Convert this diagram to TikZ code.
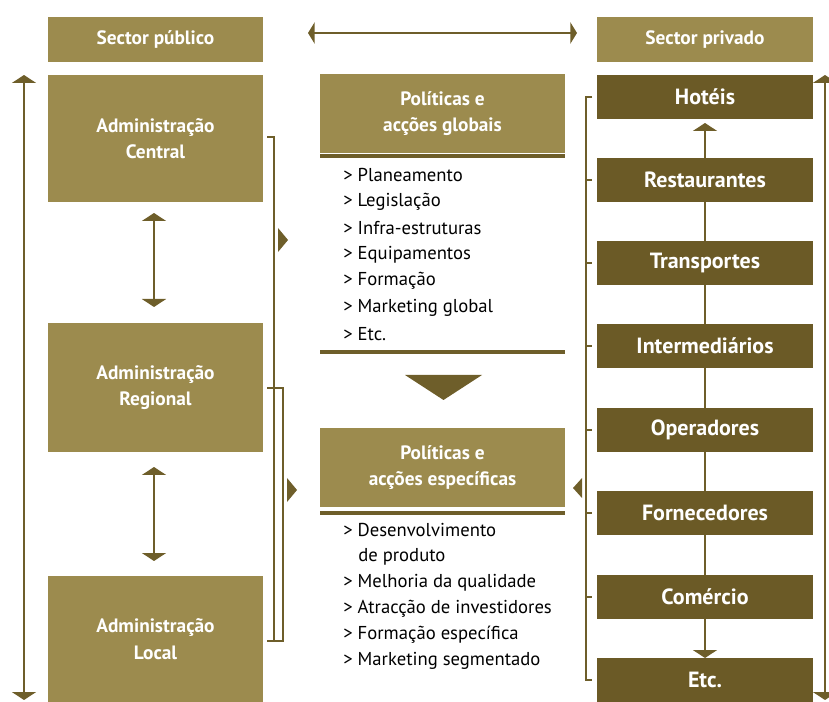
\documentclass[tikz,border=0pt]{standalone}
\usepackage{fontspec}
\setmainfont{PT Sans}
\usetikzlibrary{arrows.meta}
\definecolor{lightol}{HTML}{9C8B4E}
\definecolor{darkol}{HTML}{6B5A26}
\definecolor{lineol}{HTML}{6E5E2A}
\begin{document}
\begin{tikzpicture}[x=0.75pt,y=-0.75pt,
  boxbase/.style={text=white, font=\bfseries\fontsize{14.5}{20}\selectfont, align=center, inner sep=0pt, outer sep=0pt},
  lbox/.style={boxbase, fill=lightol, minimum width=161.25pt},
  cbox/.style={boxbase, fill=lightol, minimum width=183.75pt, minimum height=59.25pt},
  pbox/.style={boxbase, fill=darkol, minimum width=162pt, minimum height=33pt, font=\bfseries\fontsize{16.5}{20}\selectfont},
  item/.style={anchor=west, inner sep=0pt, text=black, font=\fontsize{14}{16}\selectfont},
  dbl/.style={draw=lineol, line width=2pt, {Triangle[width=18pt,length=6pt]}-{Triangle[width=18pt,length=6pt]}},
  one/.style={draw=lineol, line width=2pt, -{Triangle[width=18pt,length=6pt]}},
  plain/.style={draw=lineol, line width=2pt},
  brk/.style={draw=lineol, line width=1.6pt},
  sep/.style={draw=lineol, line width=2.6pt},
  pointer/.style={fill=lineol}
]
\useasboundingbox (0,0) rectangle (829,702);

% left column
\node[lbox, minimum height=33.75pt] (sp) at (155.5,39.5) {Sector público};
\node[lbox, minimum height=95.25pt] (ac) at (155.5,138.5) {Administração\\Central};
\node[lbox, minimum height=96.75pt] (ar) at (155.5,387.5) {Administração\\Regional};
\node[lbox, minimum height=94.5pt] (al) at (155.5,639) {Administração\\Local};

% center column
\node[cbox] (pg) at (442.5,113.5) {Políticas e\\acções globais};
\node[cbox] (pe) at (442.5,467.5) {Políticas e\\acções específicas};

% right column
\node[lbox, minimum width=162pt, minimum height=33.75pt] (spr) at (705,39.5) {Sector privado};
\node[pbox] (h) at (705,97) {Hotéis};
\node[pbox] (r) at (705,180) {Restaurantes};
\node[pbox] (t) at (705,263) {Transportes};
\node[pbox] (i) at (705,346) {Intermediários};
\node[pbox] (o) at (705,430) {Operadores};
\node[pbox] (f) at (705,513) {Fornecedores};
\node[pbox] (c) at (705,597) {Comércio};
\node[pbox] (e) at (705,680) {Etc.};

% chain arrows on the right
\draw[one, shorten >=3pt] (r.north) -- (h.south);
\draw[plain] (r.south) -- (t.north);
\draw[plain] (t.south) -- (i.north);
\draw[plain] (i.south) -- (o.north);
\draw[plain] (o.south) -- (f.north);
\draw[plain] (f.south) -- (c.north);
\draw[one] (c.south) -- (e.north);

% left vertical double arrows
\coordinate (a1) at (154,213);
\coordinate (a2) at (154,307);
\coordinate (a3) at (154,467);
\coordinate (a4) at (154,561);
\draw[dbl] (a1) -- (a2);
\draw[dbl] (a3) -- (a4);

% long side arrows
\coordinate (L1) at (24,75);
\coordinate (L2) at (24,700);
\draw[dbl] (L1) -- (L2);
\coordinate (R1) at (825,75);
\coordinate (R2) at (825,700);
\draw[dbl] (R1) -- (R2);

% top horizontal arrow
\coordinate (T1) at (308,33);
\coordinate (T2) at (577,33);
\draw[draw=lineol, line width=2.2pt, {Triangle[width=16pt,length=5pt]}-{Triangle[width=16pt,length=5pt]}] (T1) -- (T2);

% separators
\coordinate (s1a) at (320,156); \coordinate (s1b) at (565,156);
\coordinate (s2a) at (320,352); \coordinate (s2b) at (565,352);
\coordinate (s3a) at (320,513); \coordinate (s3b) at (565,513);
\draw[sep] (s1a) -- (s1b);
\draw[sep] (s2a) -- (s2b);
\draw[sep] (s3a) -- (s3b);

% items global
\node[item] (g1) at (343,175) {> Planeamento};
\node[item] (g2) at (343,201.5) {> Legislação};
\node[item] (g3) at (343,228) {> Infra-estruturas};
\node[item] (g4) at (343,254.5) {> Equipamentos};
\node[item] (g5) at (343,281) {> Formação};
\node[item] (g6) at (343,307.5) {> Marketing global};
\node[item] (g7) at (343,334) {> Etc.};

% items specific
\node[item] (e1) at (343,530) {> Desenvolvimento};
\node[item] (e2) at (358,556.5) {de produto};
\node[item] (e3) at (343,583) {> Melhoria da qualidade};
\node[item] (e4) at (343,609) {> Atracção de investidores};
\node[item] (e5) at (343,635) {> Formação específica};
\node[item] (e6) at (343,661) {> Marketing segmentado};

% down triangle
\coordinate (dt1) at (405,375);
\coordinate (dt2) at (482,375);
\coordinate (dt3) at (443.5,400);
\fill[pointer] (dt1) -- (dt2) -- (dt3) -- cycle;

% left brackets
\coordinate (b1) at (274,137);
\coordinate (b2) at (274,641);
\coordinate (b3) at (283,388);
\coordinate (b4) at (283,641);
\draw[brk] ([xshift=3pt]ac.east |- b1) -- (b1) -- (b2) -- ([xshift=3pt]al.east |- b2);
\draw[brk] ([xshift=3pt]ar.east |- b3) -- (b3) -- (b4) -- (b2);
\coordinate (pt1) at (278,240);
\fill[pointer] (pt1) ++(0,-12) -- ++(10,12) -- ++(-10,12) -- cycle;
\coordinate (pt2) at (287,490);
\fill[pointer] (pt2) ++(0,-12) -- ++(10,12) -- ++(-10,12) -- cycle;

% right bracket
\coordinate (rb1) at (586,97);
\coordinate (rb2) at (586,680);
\draw[brk] ([xshift=-3.5pt]h.west) -- (rb1) -- (rb2) -- ([xshift=-3.5pt]e.west);
\foreach \n in {r,t,i,o,f,c} {
  \draw[brk] (rb1 |- \n.west) -- ([xshift=-3.5pt]\n.west);
}
\coordinate (pt3) at (582,488);
\fill[pointer] (pt3) ++(0,-10) -- ++(-9,10) -- ++(9,10) -- cycle;
\end{tikzpicture}
\end{document}
